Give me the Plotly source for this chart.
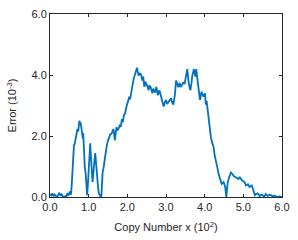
import plotly.graph_objects as go

copy_number = [
    0.00, 0.03, 0.06, 0.09, 0.12, 0.15, 0.18, 0.21, 0.24, 0.27, 0.30, 0.33, 0.36, 0.39, 0.42, 0.45, 0.48, 0.51, 0.54,
    0.56, 0.58, 0.60, 0.62, 0.64, 0.66, 0.68, 0.71, 0.73, 0.74, 0.76, 0.78, 0.79, 0.81, 0.83, 0.85, 0.86, 0.87, 0.89,
    0.90, 0.92, 0.93, 0.95, 0.96, 0.98, 1.00, 1.02, 1.04, 1.05, 1.07, 1.08, 1.10, 1.12, 1.13, 1.15, 1.17, 1.19, 1.21,
    1.23, 1.25, 1.27, 1.29, 1.31, 1.33, 1.34, 1.36, 1.39, 1.41, 1.43, 1.45, 1.47, 1.50, 1.53, 1.56, 1.59, 1.62, 1.64,
    1.66, 1.68, 1.70, 1.72, 1.74, 1.77, 1.80, 1.83, 1.86, 1.88, 1.91, 1.94, 1.97, 2.00, 2.02, 2.05, 2.07, 2.10, 2.12,
    2.14, 2.17, 2.19, 2.21, 2.23, 2.25, 2.27, 2.29, 2.32, 2.35, 2.37, 2.39, 2.41, 2.44, 2.47, 2.50, 2.52, 2.55, 2.57,
    2.60, 2.62, 2.65, 2.67, 2.69, 2.72, 2.75, 2.77, 2.79, 2.83, 2.86, 2.88, 2.90, 2.92, 2.94, 2.97, 3.00, 3.03, 3.07,
    3.10, 3.13, 3.16, 3.19, 3.21, 3.23, 3.26, 3.29, 3.32, 3.35, 3.38, 3.41, 3.45, 3.48, 3.50, 3.53, 3.55, 3.59, 3.61,
    3.63, 3.66, 3.68, 3.72, 3.74, 3.76, 3.78, 3.80, 3.84, 3.88, 3.92, 3.95, 3.97, 4.01, 4.03, 4.05, 4.08, 4.12, 4.16,
    4.20, 4.23, 4.26, 4.29, 4.32, 4.36, 4.40, 4.44, 4.49, 4.53, 4.56, 4.59, 4.63, 4.68, 4.72, 4.76, 4.82, 4.87, 4.91,
    4.97, 5.03, 5.07, 5.12, 5.16, 5.22, 5.26, 5.30, 5.33, 5.37, 5.42, 5.46, 5.50, 5.54, 5.58, 5.63, 5.67, 5.71, 5.76,
    5.80, 5.83, 5.88, 5.93, 6.00,
]
error = [
    0.10, 0.05, 0.12, 0.02, 0.08, 0.03, 0.00, 0.06, 0.14, 0.04, 0.10, 0.02, 0.00, 0.03, 0.00, 0.12, 0.05, 0.18, 0.08,
    0.35, 0.80, 1.30, 1.70, 1.75, 1.87, 1.95, 2.23, 2.15, 2.40, 2.50, 2.38, 2.45, 2.28, 2.05, 1.91, 2.10, 1.60, 1.30,
    0.96, 0.80, 0.64, 0.30, 0.06, 0.40, 0.96, 1.30, 1.76, 1.50, 1.17, 0.80, 0.49, 0.75, 1.00, 1.20, 1.44, 1.10, 0.86,
    0.50, 0.22, 0.10, 0.03, 0.00, 0.05, 0.40, 0.80, 1.00, 1.20, 1.44, 1.55, 1.70, 1.85, 1.97, 2.05, 2.07, 2.15, 2.23,
    2.05, 1.86, 2.10, 2.29, 2.18, 2.23, 2.34, 2.30, 2.55, 2.45, 2.66, 2.75, 2.92, 3.05, 3.13, 3.29, 3.20, 3.50, 3.60,
    3.71, 3.90, 3.98, 4.10, 4.14, 4.24, 4.10, 3.98, 4.05, 4.03, 3.92, 3.82, 3.95, 3.61, 3.78, 3.71, 3.62, 3.50, 3.66,
    3.61, 3.52, 3.40, 3.55, 3.50, 3.42, 3.61, 3.50, 3.34, 3.50, 3.34, 3.25, 3.18, 3.05, 2.97, 3.10, 3.18, 3.05, 3.13,
    3.20, 3.24, 3.10, 3.03, 3.20, 3.34, 3.82, 3.71, 3.60, 3.75, 3.61, 3.66, 3.77, 3.70, 3.87, 4.00, 4.19, 3.71, 3.60,
    3.50, 3.75, 3.98, 4.19, 4.03, 3.95, 4.19, 3.98, 3.45, 3.18, 3.45, 3.35, 3.29, 3.40, 3.03, 3.15, 2.76, 2.39, 1.97,
    1.75, 1.65, 1.35, 1.12, 1.02, 0.75, 0.54, 0.43, 0.49, 0.33, 0.00, 0.43, 0.64, 0.80, 0.75, 0.67, 0.64, 0.59, 0.64,
    0.54, 0.49, 0.38, 0.42, 0.33, 0.38, 0.22, 0.06, 0.10, 0.12, 0.03, 0.08, 0.06, 0.00, 0.10, 0.04, 0.07, 0.06, 0.02,
    0.05, 0.03, 0.00, 0.02, 0.00,
]

x_ticks = [0, 1, 2, 3, 4, 5, 6]
y_ticks = [0, 2, 4, 6]

fig = go.Figure()
fig.add_trace(go.Scatter(
    x=copy_number, y=error, mode="lines",
    line=dict(color="#0072BD", width=1.8),
    showlegend=False,
))

axis_common = dict(
    showgrid=False, zeroline=False,
    showline=True, linecolor="#262626", linewidth=1,
    mirror="ticks", ticks="inside", ticklen=3, tickwidth=1, tickcolor="#262626",
    tickformat=".1f",
    tickfont=dict(family="Liberation Sans, Arial, sans-serif", size=11, color="#262626"),
)

fig.update_layout(
    width=298, height=240,
    margin=dict(l=50, r=10, t=8, b=43),
    paper_bgcolor="white", plot_bgcolor="white",
    font=dict(family="Liberation Sans, Arial, sans-serif", size=11, color="#262626"),
    xaxis=dict(range=[0, 6], tickvals=x_ticks,
               title=dict(text="Copy Number x (10<sup>2</sup>)", standoff=11,
                          font=dict(size=11, color="#262626")),
               **axis_common),
    yaxis=dict(range=[0, 6], tickvals=y_ticks,
               title=dict(text="Error (10<sup>-3</sup>)", standoff=12,
                          font=dict(size=11, color="#262626")),
               **axis_common),
)

fig.write_html("out.html",
               config={"displayModeBar": False},
               post_script="document.body.style.margin='0';document.body.style.padding='0';")
